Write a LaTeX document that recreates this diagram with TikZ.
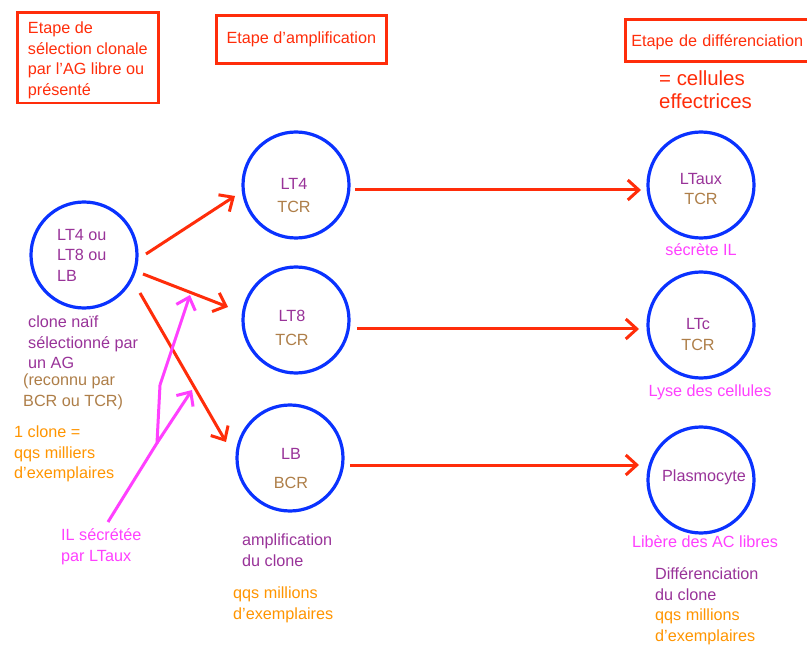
\documentclass[tikz,border=0pt]{standalone}
\usepackage{fontspec}
\setmainfont{Liberation Sans}
\usetikzlibrary{arrows.meta}
\definecolor{cred}{HTML}{FF2D0A}
\definecolor{cblue}{HTML}{0A32FF}
\definecolor{cpurple}{HTML}{993399}
\definecolor{cbrown}{HTML}{AE7E48}
\definecolor{corange}{HTML}{FF9500}
\definecolor{cmagenta}{HTML}{FF40FF}
\begin{document}
\begin{tikzpicture}[x=1pt,y=-1pt,
  cell/.style={circle,draw=cblue,line width=3.2pt,minimum size=106pt,inner sep=0pt},
  txt/.style={font=\fontsize{16.2}{20.4}\selectfont,inner sep=0pt,align=left,anchor=north west,execute at begin node=\strut},
  ctxt/.style={txt,align=center,anchor=north},
  stagebox/.style={draw=cred,line width=2.7pt,text=cred,font=\fontsize{16.2}{20.4}\selectfont,inner ysep=0pt,anchor=north west},
  redarrow/.style={draw=cred,line width=3pt,-{Straight Barb[length=11pt,width=20pt]}},
  pinkarrow/.style={draw=cmagenta,line width=3pt,-{Straight Barb[length=11pt,width=20pt]}},
  pinkline/.style={draw=cmagenta,line width=3pt,line join=round}
]
\clip (0,0) rectangle (807,647);
\fill[white] (0,0) rectangle (807,647);

% stage boxes
\node (b1) [stagebox,minimum width=141pt,inner xsep=0pt,align=left] at (16,11)
  {\rule{0pt}{21.5pt}Etape de\\sélection clonale\\par l’AG libre ou\\présenté\rule[-8pt]{0pt}{8pt}};
\node (b2) [stagebox,minimum width=170pt,inner xsep=0pt,text height=28pt,text depth=20pt] at (215,14)
  {Etape d’amplification};
\node (b3) [stagebox,inner xsep=6pt,text width=200pt,align=left,text height=27pt,text depth=15pt] at (624,18)
  {Etape de différenciation};
\node (eff) [txt,text=cred,font=\fontsize{20.4}{23}\selectfont] at (659,70.9) {= cellules\\effectrices};

% cells
\node (c0) [cell] at (84,255) {};
\node (lt4) [cell] at (296,185) {};
\node (lt8) [cell] at (296,320) {};
\node (lb) [cell] at (290,458) {};
\node (ltaux) [cell] at (701,185) {};
\node (ltc) [cell] at (701,325) {};
\node (plasmo) [cell] at (701,480) {};

% cell texts
\node (c0t) [txt,text=cpurple,font=\fontsize{16.2}{20.5}\selectfont] at (57,228.7) {LT4 ou\\LT8 ou\\LB};
\node (lt4t) [ctxt,text=cpurple] at (294,177.7) {LT4\\[2.6pt]{\color{cbrown}TCR}};
\node (lt8t) [ctxt,text=cpurple] at (292,309.7) {LT8\\[3.6pt]{\color{cbrown}TCR}};
\node (lbt) [ctxt,text=cpurple] at (291,447.7) {LB\\[8.6pt]{\color{cbrown}BCR}};
\node (ltauxt) [ctxt,text=cpurple] at (701,172.7) {LTaux\\[-0.4pt]{\color{cbrown}TCR}};
\node (ltct) [ctxt,text=cpurple] at (698,317.7) {LTc\\[0.6pt]{\color{cbrown}TCR}};
\node (plasmot) [txt,text=cpurple,anchor=base] at (704,482) {Plasmocyte};

% annotations
\node (naif) [txt,text=cpurple] at (28,315.7) {clone naïf\\sélectionné par\\un AG};
\node (reco) [txt,text=cbrown] at (23,373.7) {(reconnu par\\BCR ou TCR)};
\node (clone) [txt,text=corange] at (14,425.7) {1 clone =\\qqs milliers\\d’exemplaires};
\node (il) [txt,text=cmagenta] at (61,528.7) {IL sécrétée\\par LTaux};
\node (ampl) [txt,text=cpurple] at (242,533.7) {amplification\\du clone};
\node (qqs1) [txt,text=corange] at (233,586.7) {qqs millions\\d’exemplaires};
\node (secr) [txt,text=cmagenta,anchor=base] at (701,256) {sécrète IL};
\node (lyse) [txt,text=cmagenta,anchor=base] at (710,397) {Lyse des cellules};
\node (libere) [txt,text=cmagenta,anchor=base] at (705,547) {Libère des AC libres};
\node (diff) [txt,text=cpurple] at (655,567.7) {Différenciation\\du clone};
\node (qqs2) [txt,text=corange] at (655,608.7) {qqs millions\\d’exemplaires};

% connector ends
\coordinate (a1s) at (146,254); \coordinate (a1e) at (235,196);
\coordinate (a2s) at (143,274); \coordinate (a2e) at (228,307);
\coordinate (a3s) at (140,293); \coordinate (a3e) at (226,442);
\coordinate (a4s) at (355,190); \coordinate (a4e) at (641,190);
\coordinate (a5s) at (357,329); \coordinate (a5e) at (639,329);
\coordinate (a6s) at (350,465); \coordinate (a6e) at (639,465);

\draw[redarrow] (a1s) -- (a1e);
\draw[redarrow] (a2s) -- (a2e);
\draw[redarrow] (a3s) -- (a3e);
\draw[redarrow] (a4s) -- (a4e);
\draw[redarrow] (a5s) -- (a5e);
\draw[redarrow] (a6s) -- (a6e);

% IL arrows
\coordinate (p0) at (108,522);
\coordinate (pf) at (157,443);
\coordinate (pk) at (160,385);
\coordinate (pe1) at (190,295);
\coordinate (pe2) at (192,390);
\draw[pinkline] (p0) -- (pf) -- (pk);
\draw[pinkarrow] (pk) -- (pe1);
\draw[pinkarrow] (pf) -- (pe2);
\end{tikzpicture}
\end{document}
